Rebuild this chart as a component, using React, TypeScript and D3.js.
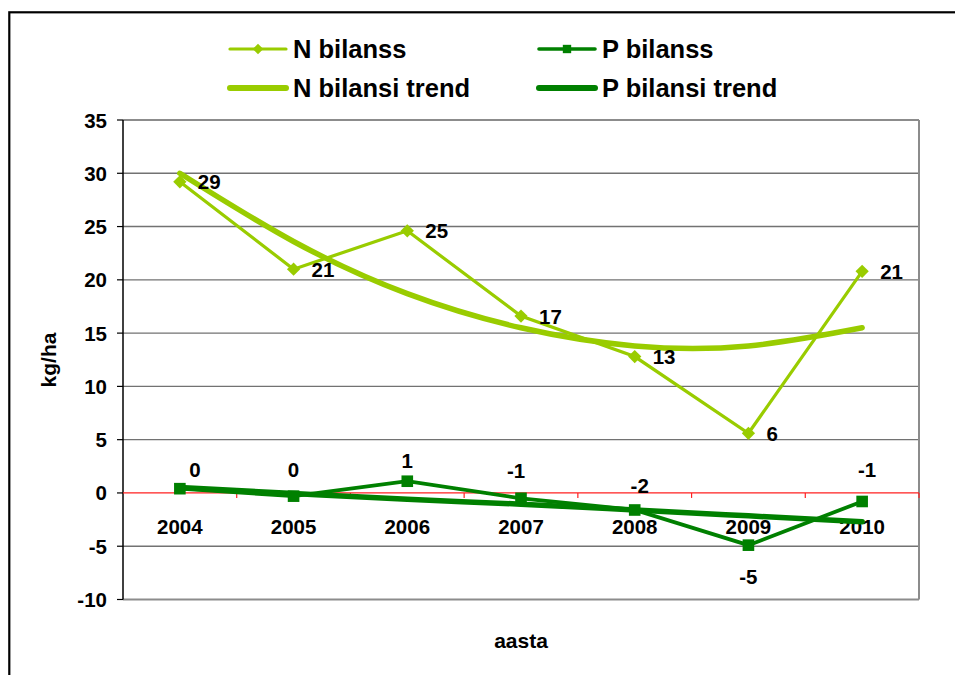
import React from 'react';
import * as d3 from 'd3';

// Nitrogen and phosphorus balance per year (kg/ha)
const years = ['2004', '2005', '2006', '2007', '2008', '2009', '2010'];
const nBalance = [29.2, 21.0, 24.6, 16.6, 12.8, 5.6, 20.8];
const pBalance = [0.4, -0.3, 1.1, -0.5, -1.6, -4.9, -0.8];
const nTrend = [30.0, 23.6, 18.7, 15.5, 13.8, 13.8, 15.5];
const pTrend = [0.5, -0.05, -0.6, -1.05, -1.6, -2.15, -2.7];
const yTicks = [-10, -5, 0, 5, 10, 15, 20, 25, 30, 35];
const legendLabels = ['N bilanss', 'P bilanss', 'N bilansi trend', 'P bilansi trend'];
const yTitle = 'kg/ha';
const xTitle = 'aasta';

const N_COLOR = '#99cc00';
const P_COLOR = '#008000';
const FONT = '"Liberation Sans", Arial, sans-serif';

// P label placement around its square marker
const pLabelOffsets: [number, number][] = [
  [15, -19], [0, -27], [0, -21], [-5, -28], [5, -24], [0, 31], [5, -32],
];

const roundLabel = (v: number) => {
  const r = Math.sign(v) * Math.round(Math.abs(v));
  return r === 0 ? 0 : r;
};

// square rotated 45°, equal width and height
const symbolRhombus: d3.SymbolType = {
  draw(context, size) {
    const r = Math.sqrt(size / 2);
    context.moveTo(0, -r);
    context.lineTo(r, 0);
    context.lineTo(0, r);
    context.lineTo(-r, 0);
    context.closePath();
  },
};

export default function App() {
  const W = 955;
  const H = 675;
  const plot = { left: 123, right: 919, top: 120, bottom: 599.5 };

  const x = d3.scaleBand<string>().domain(years).range([plot.left, plot.right]);
  const xc = (i: number) => (x(years[i]) as number) + x.bandwidth() / 2;
  const y = d3.scaleLinear().domain([-10, 35]).range([plot.bottom, plot.top]);

  const lineStraight = d3.line<number>().x((_, i) => xc(i)).y((d) => y(d));
  const lineSmooth = d3
    .line<number>()
    .x((_, i) => xc(i))
    .y((d) => y(d))
    .curve(d3.curveNatural);

  const diamond = d3.symbol(symbolRhombus, 88)();
  const square = d3.symbol(d3.symbolSquare, 135)();
  const legendDiamond = d3.symbol(symbolRhombus, 55)();
  const legendSquare = d3.symbol(d3.symbolSquare, 70)();

  const bandEdges = years.map((yr) => (x(yr) as number) + x.bandwidth());

  const legendItems = [
    { label: legendLabels[0], color: N_COLOR, x: 230, y: 49, width: 3.2, marker: legendDiamond },
    { label: legendLabels[1], color: P_COLOR, x: 539, y: 49, width: 3.6, marker: legendSquare },
    { label: legendLabels[2], color: N_COLOR, x: 230, y: 88, width: 6, marker: null },
    { label: legendLabels[3], color: P_COLOR, x: 539, y: 88, width: 6, marker: null },
  ];

  return (
    <svg
      width={W}
      height={H}
      style={{ position: 'absolute', left: 0, top: 0, background: '#fff' }}
      fontFamily={FONT}
    >
      {/* outer frame */}
      <rect x={9.3} y={12.3} width={980} height={700} fill="#fff" stroke="#000" strokeWidth={2.2} />

      {/* legend */}
      {legendItems.map((it) => (
        <g key={it.label}>
          <line
            x1={it.x}
            x2={it.x + 56}
            y1={it.y}
            y2={it.y}
            stroke={it.color}
            strokeWidth={it.width}
            strokeLinecap="round"
          />
          {it.marker && (
            <path d={it.marker} transform={`translate(${it.x + 28},${it.y})`} fill={it.color} />
          )}
          <text
            x={it.x + 63}
            y={it.y}
            dominantBaseline="central"
            fontSize={25.5}
            fontWeight="bold"
            fill="#000"
          >
            {it.label}
          </text>
        </g>
      ))}

      {/* horizontal gridlines */}
      {yTicks.map((t) =>
        t === 0 ? null : (
          <line
            key={`g${t}`}
            x1={plot.left}
            x2={plot.right}
            y1={y(t)}
            y2={y(t)}
            stroke={t === -10 || t === 35 ? '#8c8c8c' : '#727272'}
            strokeWidth={t === -10 || t === 35 ? 2 : 1.4}
          />
        )
      )}
      {/* right border of plot area */}
      <line x1={plot.right} x2={plot.right} y1={plot.top} y2={plot.bottom} stroke="#8c8c8c" strokeWidth={2} />

      {/* y axis */}
      <line x1={plot.left} x2={plot.left} y1={plot.top} y2={plot.bottom} stroke="#000" strokeWidth={1.5} />
      {yTicks.map((t) => (
        <g key={`t${t}`}>
          <line x1={plot.left - 6} x2={plot.left} y1={y(t)} y2={y(t)} stroke="#000" strokeWidth={1.2} />
          <text
            x={107}
            y={y(t)}
            textAnchor="end"
            dominantBaseline="central"
            fontSize={20.5}
            fontWeight="bold"
            fill="#000"
          >
            {t}
          </text>
        </g>
      ))}

      {/* x axis at zero */}
      <line x1={plot.left} x2={plot.right} y1={y(0)} y2={y(0)} stroke="#ff2020" strokeWidth={1.2} />
      {bandEdges.map((bx, i) => (
        <line key={`xt${i}`} x1={bx} x2={bx} y1={y(0)} y2={y(0) + 5} stroke="#ff2020" strokeWidth={1.2} />
      ))}
      {years.map((yr, i) => (
        <text
          key={`xl${yr}`}
          x={xc(i)}
          y={526}
          textAnchor="middle"
          dominantBaseline="central"
          fontSize={20.5}
          fontWeight="bold"
          fill="#000"
        >
          {yr}
        </text>
      ))}

      {/* axis titles */}
      <text
        transform={`translate(48,360) rotate(-90)`}
        textAnchor="middle"
        dominantBaseline="central"
        fontSize={21}
        fontWeight="bold"
        fill="#000"
      >
        {yTitle}
      </text>
      <text
        x={521}
        y={640}
        textAnchor="middle"
        dominantBaseline="central"
        fontSize={21}
        fontWeight="bold"
        fill="#000"
      >
        {xTitle}
      </text>

      {/* balance series */}
      <path d={lineStraight(nBalance) ?? ''} fill="none" stroke={N_COLOR} strokeWidth={3.2} />
      <path d={lineStraight(pBalance) ?? ''} fill="none" stroke={P_COLOR} strokeWidth={3.8} />

      {/* trend lines */}
      <path
        d={lineSmooth(nTrend) ?? ''}
        fill="none"
        stroke={N_COLOR}
        strokeWidth={5.5}
        strokeLinecap="round"
      />
      <path
        d={lineSmooth(pTrend) ?? ''}
        fill="none"
        stroke={P_COLOR}
        strokeWidth={5.5}
        strokeLinecap="round"
      />

      {/* markers */}
      {nBalance.map((v, i) => (
        <path key={`nm${i}`} d={diamond} transform={`translate(${xc(i)},${y(v)})`} fill={N_COLOR} />
      ))}
      {pBalance.map((v, i) => (
        <path key={`pm${i}`} d={square} transform={`translate(${xc(i)},${y(v)})`} fill={P_COLOR} />
      ))}

      {/* data labels */}
      {nBalance.map((v, i) => (
        <text
          key={`nl${i}`}
          x={xc(i) + 18}
          y={y(v)}
          dominantBaseline="central"
          fontSize={20.5}
          fontWeight="bold"
          fill="#000"
        >
          {roundLabel(v)}
        </text>
      ))}
      {pBalance.map((v, i) => (
        <text
          key={`pl${i}`}
          x={xc(i) + pLabelOffsets[i][0]}
          y={y(v) + pLabelOffsets[i][1]}
          textAnchor="middle"
          dominantBaseline="central"
          fontSize={20.5}
          fontWeight="bold"
          fill="#000"
        >
          {roundLabel(v)}
        </text>
      ))}
    </svg>
  );
}
